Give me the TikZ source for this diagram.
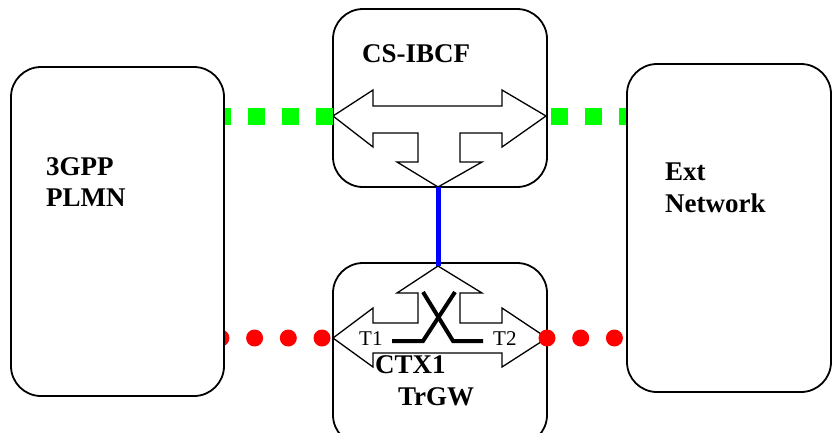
\documentclass[tikz,border=0pt]{standalone}
\usepackage{fontspec}
\setmainfont{Liberation Serif}
\definecolor{sipgreen}{RGB}{0,255,0}
\definecolor{rtpred}{RGB}{255,0,0}
\definecolor{ctlblue}{RGB}{0,0,255}
\pgfdeclarelayer{lower}
\pgfdeclarelayer{middle}
\pgfsetlayers{lower,middle,main}
\begin{document}
\begin{tikzpicture}[x=1pt,y=-1pt,
  box/.style={draw=black, line width=1.8pt, rounded corners=30pt, fill=white, inner sep=0pt},
  arr/.style={draw=black, line width=1.3pt, fill=white, line join=miter},
  lbl/.style={font=\fontsize{27}{31}\selectfont\bfseries, anchor=base west, inner sep=0pt},
  tlbl/.style={font=\fontsize{21}{24}\selectfont, anchor=base west, inner sep=0pt},
  sipline/.style={draw=sipgreen, line width=17pt, line cap=butt, dash pattern=on 17pt off 17pt},
  rtpline/.style={draw=rtpred, line width=17pt, line cap=round, dash pattern=on 0pt off 33.7pt},
  ctlline/.style={draw=ctlblue, line width=5pt},
  switchline/.style={draw=black, line width=4pt, line join=miter}]
\clip (0,0) rectangle (832,432);

% outer networks (on top)
\node[box, minimum width=213pt, minimum height=329pt] (plmn) at (117.5,231.5) {};
\node[box, minimum width=204pt, minimum height=328pt] (ext) at (729,228) {};
\node[lbl] (plmnA) at (46,175) {3GPP};
\node[lbl] (plmnB) at (46,206) {PLMN};
\node[lbl] (extA) at (665,180) {Ext};
\node[lbl] (extB) at (665,212) {Network};

\begin{pgfonlayer}{lower}
  \fill[white] (0,0) rectangle (832,432);
  \node[box, minimum width=214pt, minimum height=178pt] (ibcf) at (440,98) {};
  \node[box, minimum width=214pt, minimum height=182pt] (trgw) at (440,354) {};
  \coordinate (ibL) at (333,116);
  \coordinate (ibR) at (546,116);
  \coordinate (ibB) at (438,187);
  \coordinate (trL) at (333,338);
  \coordinate (trR) at (547,338);
  \coordinate (trT) at (438,266);
  \draw[arr] (ibL) -- (373,90) -- (373,106) -- (502,106) -- (502,90) -- (ibR)
     -- (502,147) -- (502,133) -- (460,133) -- (460,162) -- (482,162) -- (ibB)
     -- (397,162) -- (418,162) -- (418,133) -- (373,133) -- (373,147) -- cycle;
  \draw[arr] (trL) -- (373,308) -- (373,323) -- (418,323) -- (418,293) -- (397,293)
     -- (trT) -- (482,293) -- (460,293) -- (460,323) -- (502,323) -- (502,308)
     -- (trR) -- (502,367) -- (502,353) -- (373,353) -- (373,367) -- cycle;
  \draw[switchline] (392,341) -- (423,341) -- (455,292);
  \draw[switchline] (483,341) -- (453,341) -- (423,292);
  \node[tlbl] (t1) at (359,345) {T1};
  \node[tlbl] (t2) at (493,345) {T2};
  \node[lbl] (ibcfA) at (362,62) {CS-IBCF};
  \node[lbl] (trgwA) at (375,373) {CTX1};
  \node[lbl] (trgwB) at (398,405) {TrGW};
\end{pgfonlayer}

\begin{pgfonlayer}{middle}
  \draw[sipline] (ibL) -- (plmn.east |- ibL);
  \draw[sipline] (551,116) -- (ext.west |- ibR);
  \draw[rtpline, dash phase=22.7pt] (trL) -- ([xshift=-12pt]plmn.east |- trL);
  \draw[rtpline] (trR) -- (ext.west |- trR);
  \draw[ctlline] (ibB) -- (trT);
\end{pgfonlayer}
\end{tikzpicture}
\end{document}
